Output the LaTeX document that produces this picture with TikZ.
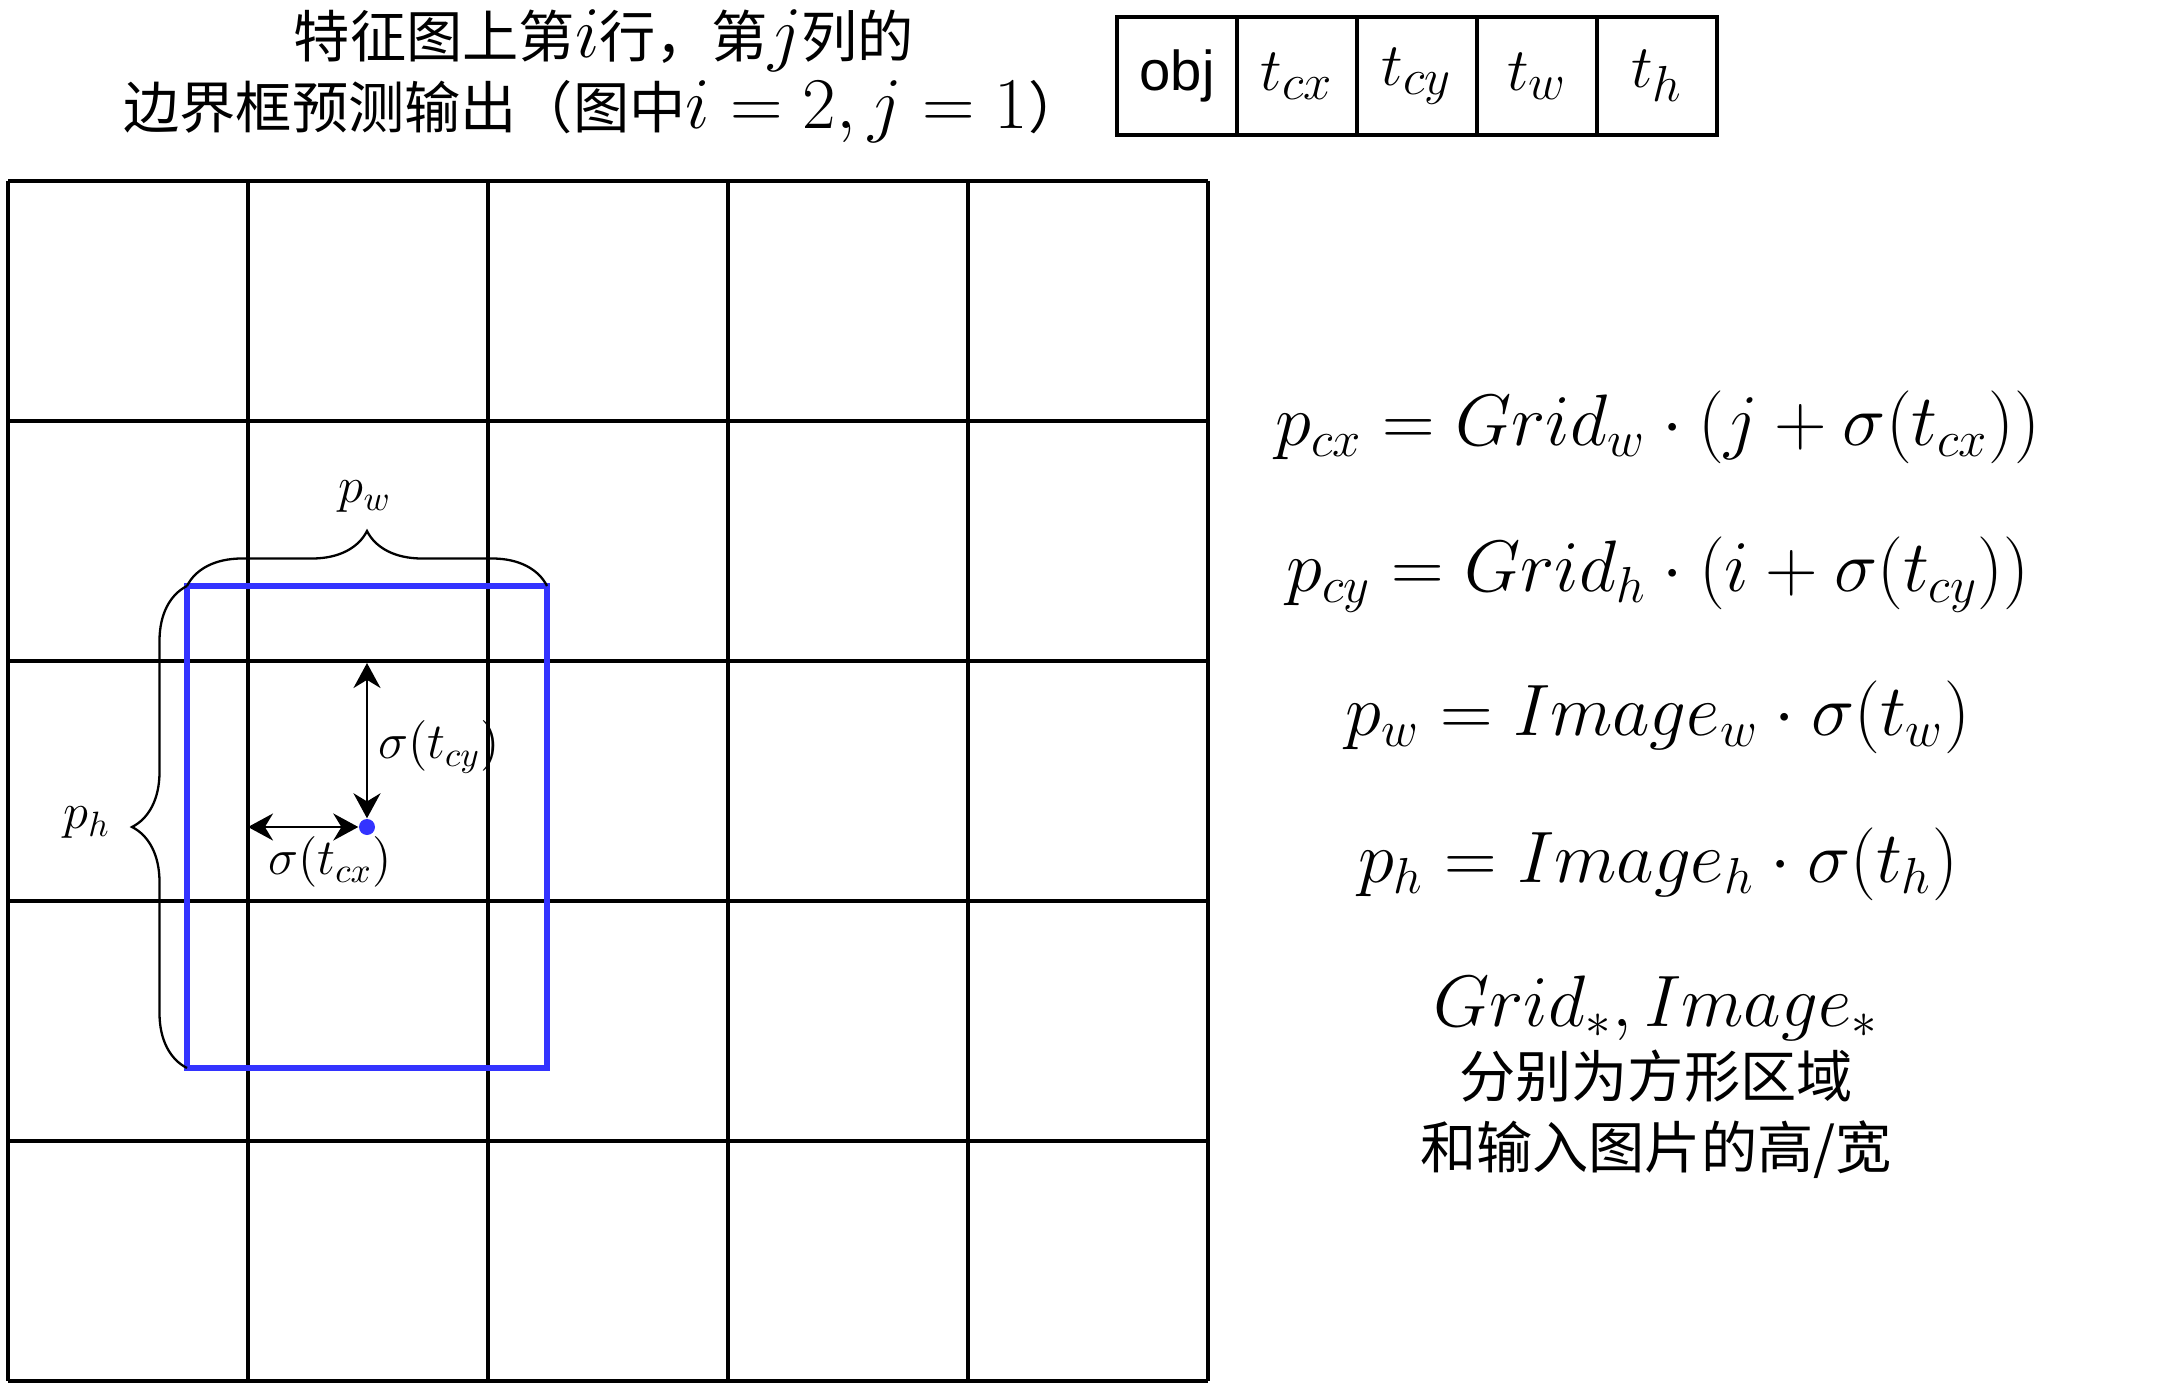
\documentclass[tikz,border=0pt]{standalone}
\usepackage[no-math]{fontspec}
\setmainfont{Noto Sans CJK SC}[Scale=0.8]
\newfontfamily\objfont{Liberation Sans}
\usepackage{amsmath}
\usetikzlibrary{arrows.meta,positioning,decorations.pathreplacing}
\definecolor{boxblue}{RGB}{51,51,255}

\begin{document}
\begin{tikzpicture}[
  font=\fontsize{20}{20.2}\selectfont,
  gridline/.style={line width=0.95pt},
  cell/.style={draw, line width=0.95pt, minimum width=1.2cm, minimum height=1.18cm,
    inner sep=0pt, outer sep=0pt, font=\fontsize{19}{19}\selectfont},
  curly/.style={decorate, decoration={brace, amplitude=0.55cm}, line width=0.65pt},
  shiftarrow/.style={{Stealth[length=0.25cm,width=0.27cm]}-{Stealth[length=0.25cm,width=0.27cm]}, line width=0.75pt},
  small/.style={font=\fontsize{14.5}{16}\selectfont},
]
\useasboundingbox (0,0) rectangle (21.84,-13.83);

\node (title) [align=center] at (6.04,-0.76)
  {特征图上第$i$行，第$j$列的\\边界框预测输出（图中$i=2,j=1$）};

% output vector
\node (obj) [cell] at (11.77,-0.76) {\fontsize{16}{16}\selectfont\objfont obj};
\node (tcx) [cell, right=0pt of obj] {$t_{cx}$};
\node (tcy) [cell, right=0pt of tcx] {$t_{cy}$};
\node (tw) [cell, right=0pt of tcy] {$t_{w}$};
\node (th) [cell, right=0pt of tw] {$t_{h}$};

% feature map grid
\foreach \k in {0,...,5} {
  \draw[gridline] (0.08+2.4*\k,-1.81) -- (0.08+2.4*\k,-13.81);
  \draw[gridline] (0.08,-1.81-2.4*\k) -- (12.08,-1.81-2.4*\k);
}

\node (predbox) [draw=boxblue, line width=1.5pt, minimum width=3.6cm, minimum height=4.82cm,
  inner sep=0pt, outer sep=0pt] at (3.67,-8.27) {};
\node (ctr) [circle, fill=boxblue, inner sep=0pt, minimum size=0.16cm] at (predbox.center) {};

\coordinate (cellleft) at (2.48,-8.27);
\coordinate (celltop) at (3.67,-6.63);
\draw[shiftarrow] (cellleft) -- (ctr);
\draw[shiftarrow] (celltop) -- (ctr);
\node (sx) [small] at (3.30,-8.62) {$\sigma(t_{cx})$};
\node (sy) [small, anchor=west] at (3.68,-7.47) {$\sigma(t_{cy})$};

\draw[curly] (predbox.north west) -- (predbox.north east);
\draw[curly] (predbox.south west) -- (predbox.north west);
\node (pw) [small] at (3.65,-4.97) {$p_w$};
\node (ph) [small] at (0.87,-8.23) {$p_h$};

% decoding formulas
\node (fcx) [font=\fontsize{20.5}{22}\selectfont] at (16.58,-4.27)
  {$p_{cx}=Grid_w\cdot(j+\sigma(t_{cx}))$};
\node (fcy) [font=\fontsize{20.5}{22}\selectfont] at (16.58,-5.75)
  {$p_{cy}=Grid_h\cdot(i+\sigma(t_{cy}))$};
\node (fw) [font=\fontsize{20.5}{22}\selectfont] at (16.58,-7.17)
  {$p_w=Image_w\cdot\sigma(t_w)$};
\node (fh) [font=\fontsize{20.5}{22}\selectfont] at (16.58,-8.64)
  {$p_h=Image_h\cdot\sigma(t_h)$};
\node (note) [align=center] at (16.56,-10.77)
  {$Grid_*,Image_*$\\分别为方形区域\\和输入图片的高/宽};

\end{tikzpicture}
\end{document}
